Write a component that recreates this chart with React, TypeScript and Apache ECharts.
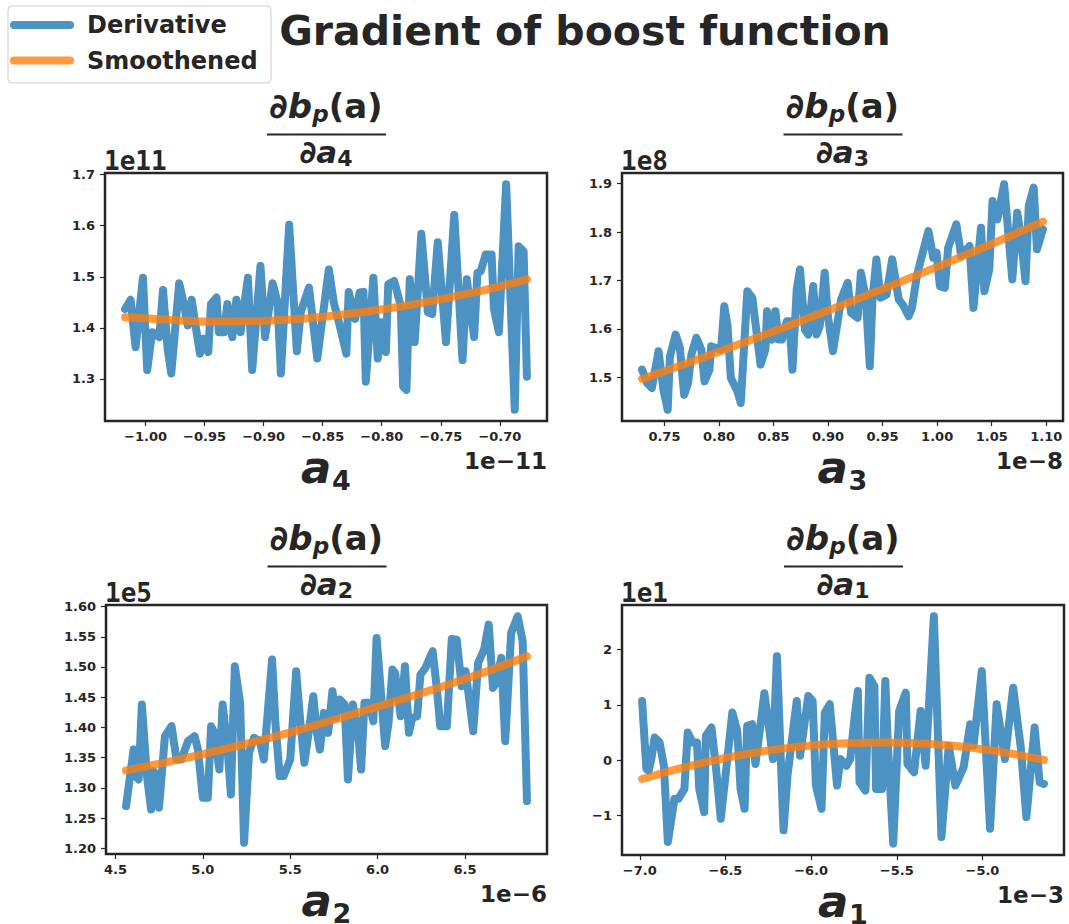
import React, { useEffect, useRef } from "react";
import * as echarts from "echarts";

const TITLE = "Gradient of boost function";
const LEGEND_LABELS = ["Derivative", "Smoothened"];
const BLUE = "#1f77b4";
const ORANGE = "#ff7f0e";
const INK = "#262626";
const FONT = "DejaVu Sans";

// Panel a4 (x in 1e-11, y in 1e11)
const P1_DERIV: [number, number][] = [
  [-1.0173, 1.4368], [-1.0126, 1.4549], [-1.0084, 1.3625], [-1.0022, 1.4982], [-0.9986, 1.3173],
  [-0.9944, 1.3916], [-0.9883, 1.3819], [-0.9852, 1.4743], [-0.9813, 1.3593], [-0.9782, 1.3108],
  [-0.9715, 1.4872], [-0.9678, 1.4498], [-0.9642, 1.4045], [-0.9609, 1.4549], [-0.9572, 1.3981],
  [-0.9539, 1.3496], [-0.9511, 1.3787], [-0.9469, 1.3528], [-0.9446, 1.4465], [-0.9399, 1.4595],
  [-0.9379, 1.3916], [-0.9335, 1.3916], [-0.9307, 1.4465], [-0.9265, 1.3819], [-0.9231, 1.4549],
  [-0.9195, 1.3916], [-0.9133, 1.4982], [-0.9097, 1.3173], [-0.9027, 1.5209], [-0.8988, 1.3819],
  [-0.8924, 1.4872], [-0.8882, 1.4498], [-0.8854, 1.3108], [-0.8784, 1.6017], [-0.8719, 1.3541],
  [-0.8686, 1.4304], [-0.8616, 1.4788], [-0.8546, 1.3399], [-0.8448, 1.5144], [-0.8406, 1.4498],
  [-0.8356, 1.4045], [-0.83, 1.3496], [-0.828, 1.4704], [-0.8225, 1.4175], [-0.8188, 1.4691],
  [-0.8155, 1.4704], [-0.8135, 1.2946], [-0.8071, 1.4982], [-0.8034, 1.3399], [-0.8001, 1.411],
  [-0.7965, 1.3528], [-0.7945, 1.4853], [-0.7895, 1.4918], [-0.7839, 1.4433], [-0.7819, 1.2849],
  [-0.7791, 1.2785], [-0.7763, 1.495], [-0.7721, 1.3722], [-0.7665, 1.5842], [-0.7609, 1.4304],
  [-0.7573, 1.4271], [-0.7526, 1.5674], [-0.7456, 1.3722], [-0.7386, 1.6211], [-0.7316, 1.3367],
  [-0.728, 1.495], [-0.7218, 1.3819], [-0.719, 1.5079], [-0.7162, 1.5111], [-0.712, 1.5434],
  [-0.707, 1.5434], [-0.705, 1.4368], [-0.7008, 1.3916], [-0.6947, 1.681], [-0.6874, 1.2398],
  [-0.6841, 1.5596], [-0.6799, 1.5499], [-0.6771, 1.3043],
];
const P1_SMOOTH: [number, number][] = [
  [-1.0173, 1.4207], [-0.98, 1.416], [-0.944, 1.4123], [-0.897, 1.414], [-0.84, 1.424],
  [-0.785, 1.4414], [-0.7288, 1.466], [-0.7, 1.481], [-0.6771, 1.495],
];
const P1_XTICKS = [-1.0, -0.95, -0.9, -0.85, -0.8, -0.75, -0.7];
const P1_YTICKS = [1.3, 1.4, 1.5, 1.6, 1.7];

// Panel a3 (x in 1e-8, y in 1e8)
const P2_DERIV: [number, number][] = [
  [0.7295, 1.5159], [0.734, 1.4883], [0.7385, 1.4779], [0.7446, 1.5538], [0.7491, 1.4745],
  [0.753, 1.4331], [0.7551, 1.5434], [0.7603, 1.5883], [0.7642, 1.5607], [0.7681, 1.4641],
  [0.7717, 1.4883], [0.7747, 1.5469], [0.7793, 1.5814], [0.7838, 1.5572], [0.7868, 1.4917],
  [0.7913, 1.5159], [0.7928, 1.5641], [0.8019, 1.5572], [0.8049, 1.6469], [0.8079, 1.6055],
  [0.8109, 1.4986], [0.817, 1.471], [0.82, 1.4469], [0.826, 1.6779], [0.8306, 1.6641],
  [0.8381, 1.5262], [0.8426, 1.5572], [0.8441, 1.6366], [0.8487, 1.5779], [0.8517, 1.6366],
  [0.8547, 1.5779], [0.8577, 1.5779], [0.8622, 1.6159], [0.8646, 1.6159], [0.8674, 1.5159],
  [0.8713, 1.6814], [0.8743, 1.7228], [0.8788, 1.5986], [0.8818, 1.5883], [0.8864, 1.6883],
  [0.8894, 1.5883], [0.8924, 1.6055], [0.8969, 1.7159], [0.8999, 1.6262], [0.9045, 1.5538],
  [0.912, 1.6607], [0.918, 1.6952], [0.9211, 1.6331], [0.9271, 1.6228], [0.9301, 1.7159],
  [0.9346, 1.6641], [0.9383, 1.5228], [0.9407, 1.6607], [0.9443, 1.7435], [0.9482, 1.6641],
  [0.9536, 1.671], [0.9588, 1.7435], [0.9648, 1.6607], [0.9693, 1.6469], [0.9739, 1.6262],
  [0.9769, 1.6434], [0.9814, 1.709], [0.9844, 1.7366], [0.992, 1.8021], [0.9965, 1.7469],
  [0.9995, 1.7573], [1.0025, 1.6883], [1.0071, 1.6848], [1.0101, 1.7676], [1.0176, 1.8159],
  [1.0221, 1.7504], [1.0297, 1.771], [1.0333, 1.6434], [1.0402, 1.809], [1.0433, 1.6779],
  [1.0478, 1.7228], [1.0508, 1.8642], [1.0553, 1.8262], [1.0614, 1.8986], [1.0689, 1.7021],
  [1.0734, 1.84], [1.0764, 1.7952], [1.081, 1.6986], [1.084, 1.8538], [1.0885, 1.8917],
  [1.0915, 1.7642], [1.097, 1.8055],
];
const P2_SMOOTH: [number, number][] = [
  [0.7295, 1.4966], [0.8, 1.553], [0.9, 1.638], [1.0, 1.728], [1.097, 1.8214],
];
const P2_XTICKS = [0.75, 0.8, 0.85, 0.9, 0.95, 1.0, 1.05, 1.1];
const P2_YTICKS = [1.5, 1.6, 1.7, 1.8, 1.9];

// Panel a2 (x in 1e-6, y in 1e5)
const P3_DERIV: [number, number][] = [
  [4.5604, 1.2699], [4.6038, 1.3635], [4.6226, 1.3168], [4.6321, 1.314], [4.6509, 1.4379],
  [4.6792, 1.3223], [4.7038, 1.2644], [4.717, 1.3278], [4.7321, 1.3223], [4.7491, 1.2672],
  [4.783, 1.3856], [4.8208, 1.4021], [4.8491, 1.347], [4.8774, 1.347], [4.9151, 1.3773],
  [4.9528, 1.3856], [4.9717, 1.3636], [5.0, 1.2837], [5.0283, 1.2837], [5.0472, 1.4021],
  [5.066, 1.3911], [5.0943, 1.3305], [5.1132, 1.4379], [5.1415, 1.3636], [5.1604, 1.2892],
  [5.183, 1.5012], [5.2132, 1.4407], [5.2358, 1.2094], [5.2642, 1.3581], [5.2925, 1.3828],
  [5.3264, 1.3773], [5.3491, 1.347], [5.3962, 1.5122], [5.4151, 1.4076], [5.4396, 1.3195],
  [5.4623, 1.3195], [5.5, 1.347], [5.534, 1.493], [5.5566, 1.4131], [5.5811, 1.3415],
  [5.6038, 1.3883], [5.6321, 1.4517], [5.6509, 1.3938], [5.6698, 1.3636], [5.6925, 1.4241],
  [5.717, 1.3911], [5.7415, 1.4599], [5.7604, 1.4159], [5.783, 1.4462], [5.8113, 1.4379],
  [5.8302, 1.314], [5.8585, 1.4379], [5.8868, 1.3966], [5.9057, 1.3305], [5.9245, 1.4407],
  [5.9528, 1.4407], [5.9755, 1.4104], [5.9943, 1.548], [6.0434, 1.3691], [6.0623, 1.4076],
  [6.0849, 1.4957], [6.1, 1.4902], [6.1321, 1.4186], [6.1566, 1.5012], [6.1792, 1.3911],
  [6.1981, 1.4159], [6.2264, 1.4186], [6.2453, 1.4875], [6.2736, 1.4985], [6.3151, 1.526],
  [6.3396, 1.4627], [6.3585, 1.4021], [6.3962, 1.4021], [6.4245, 1.5464], [6.4528, 1.5453],
  [6.4811, 1.4682], [6.5038, 1.493], [6.5472, 1.3938], [6.5755, 1.5067], [6.6094, 1.5288],
  [6.6358, 1.5701], [6.6604, 1.4654], [6.6792, 1.4737], [6.7075, 1.515], [6.7302, 1.3773],
  [6.7642, 1.5563], [6.8019, 1.5838], [6.8302, 1.5425], [6.8547, 1.2782],
];
const P3_SMOOTH: [number, number][] = [
  [4.5604, 1.3289], [5.0, 1.356], [5.5, 1.392], [6.0, 1.4345], [6.5, 1.48], [6.8547, 1.5178],
];
const P3_XTICKS = [4.5, 5.0, 5.5, 6.0, 6.5];
const P3_YTICKS = [1.2, 1.25, 1.3, 1.35, 1.4, 1.45, 1.5, 1.55, 1.6];

// Panel a1 (x in 1e-3, y in 1e1)
const P4_DERIV: [number, number][] = [
  [-6.9865, 1.0703], [-6.9614, -0.1624], [-6.9479, -0.1924], [-6.9325, 0.018], [-6.9132, 0.4089],
  [-6.8843, 0.3187], [-6.8592, -0.1022], [-6.8361, -1.4852], [-6.7975, -0.7035], [-6.7744, -0.7035],
  [-6.7396, -0.5231], [-6.7204, 0.4991], [-6.6914, 0.3187], [-6.6664, 0.3187], [-6.6529, -0.5231],
  [-6.6239, -0.944], [-6.6143, 0.4389], [-6.5815, 0.5893], [-6.5564, -0.1022], [-6.5275, -1.0643],
  [-6.4889, 0.018], [-6.46, 0.8599], [-6.4311, 0.5291], [-6.4118, -0.5231], [-6.3886, -0.8839],
  [-6.3732, 0.6193], [-6.3443, 0.6494], [-6.325, -0.0722], [-6.2961, 0.6193], [-6.2729, 1.2086],
  [-6.2479, 0.6494], [-6.2229, 0.018], [-6.1996, 1.8821], [-6.1611, -1.2748], [-6.1379, -0.2826],
  [-6.0839, 1.0703], [-6.0646, 0.0782], [-6.0164, 1.1605], [-5.9913, 1.0703], [-5.9721, -0.463],
  [-5.9393, -0.8839], [-5.92, 0.8599], [-5.8911, 1.0102], [-5.8486, -0.463], [-5.8293, 0.018],
  [-5.7946, -0.1022], [-5.7715, 0.018], [-5.7464, 0.7697], [-5.7271, 1.2507], [-5.7175, -0.4029],
  [-5.6828, -0.5532], [-5.6596, 1.4912], [-5.6307, 1.3409], [-5.621, -0.5231], [-5.5863, -0.5231],
  [-5.567, 1.4311], [-5.5536, 0.3788], [-5.5208, -1.5153], [-5.486, 0.8899], [-5.4475, 1.2206],
  [-5.4378, -0.0722], [-5.3993, -0.2225], [-5.3607, 0.8899], [-5.3318, -0.1022], [-5.2836, 2.6036],
  [-5.2392, -1.395], [-5.1968, 0.2586], [-5.1582, -0.463], [-5.11, -0.1323], [-5.0714, 0.6494],
  [-5.0521, 0.2586], [-5.0039, 1.6115], [-4.9557, -1.2447], [-4.9171, 1.0102], [-4.8689, 0.018],
  [-4.8207, 1.3108], [-4.7763, 0.2285], [-4.7436, -1.0342], [-4.6954, 0.5893], [-4.6664, -0.4029],
  [-4.6413, -0.433],
];
const P4_SMOOTH: [number, number][] = [
  [-6.9865, -0.343], [-6.7, -0.1], [-6.41, 0.09], [-6.12, 0.225], [-5.83, 0.3],
  [-5.54, 0.318], [-5.25, 0.278], [-4.96, 0.18], [-4.6413, 0.0],
];
const P4_XTICKS = [-7.0, -6.5, -6.0, -5.5, -5.0];
const P4_YTICKS = [-1, 0, 1, 2];

const PANELS = [
  { deriv: P1_DERIV, smooth: P1_SMOOTH, xTicks: P1_XTICKS, yTicks: P1_YTICKS, xDec: 2, yDec: 1,
    sub: "4", yOff: "1e11", xOff: "1e\u221211", left: 105, top: 173, width: 442, height: 248 },
  { deriv: P2_DERIV, smooth: P2_SMOOTH, xTicks: P2_XTICKS, yTicks: P2_YTICKS, xDec: 2, yDec: 1,
    sub: "3", yOff: "1e8", xOff: "1e\u22128", left: 622, top: 173, width: 441, height: 248 },
  { deriv: P3_DERIV, smooth: P3_SMOOTH, xTicks: P3_XTICKS, yTicks: P3_YTICKS, xDec: 1, yDec: 2,
    sub: "2", yOff: "1e5", xOff: "1e\u22126", left: 106, top: 605, width: 441, height: 249 },
  { deriv: P4_DERIV, smooth: P4_SMOOTH, xTicks: P4_XTICKS, yTicks: P4_YTICKS, xDec: 1, yDec: 0,
    sub: "1", yOff: "1e1", xOff: "1e\u22123", left: 622, top: 605, width: 442, height: 250 },
];

const fmt = (v: number, d: number) => v.toFixed(d).replace("-", "\u2212");

function paddedExtent(vals: number[]) {
  const lo = Math.min(...vals);
  const hi = Math.max(...vals);
  const m = (hi - lo) * 0.05;
  return [lo - m, hi + m];
}

function tx(text: string, x: number, y: number, style: any) {
  return {
    type: "text",
    x,
    y,
    silent: true,
    style: { text, fill: INK, fontFamily: FONT, ...style },
  };
}

export default function App() {
  const ref = useRef<HTMLDivElement>(null);

  useEffect(() => {
    if (!ref.current) return;
    const chart = echarts.init(ref.current, undefined, { renderer: "svg" });

    const grids: any[] = [];
    const xAxes: any[] = [];
    const yAxes: any[] = [];
    const series: any[] = [];
    const graphics: any[] = [];

    PANELS.forEach((p, i) => {
      const all = [...p.deriv, ...p.smooth];
      const [xmin, xmax] = paddedExtent(all.map((d) => d[0]));
      const [ymin, ymax] = paddedExtent(all.map((d) => d[1]));
      grids.push({
        left: p.left, top: p.top, width: p.width, height: p.height,
        show: true, borderColor: INK, borderWidth: 2.5, backgroundColor: "transparent",
        containLabel: false,
      });
      const common = {
        type: "value",
        gridIndex: i,
        axisLine: { show: false, onZero: false },
        splitLine: { show: false },
      };
      xAxes.push({
        ...common,
        position: "bottom",
        min: xmin, max: xmax,
        axisTick: { show: true, inside: false, length: 5, lineStyle: { color: INK, width: 1.2 }, customValues: p.xTicks },
        axisLabel: {
          show: true, customValues: p.xTicks, margin: 9, fontSize: 13, fontWeight: "bold",
          fontFamily: FONT, color: INK, formatter: (v: number) => fmt(v, p.xDec),
        },
      });
      yAxes.push({
        ...common,
        position: "left",
        min: ymin, max: ymax,
        axisTick: { show: true, inside: false, length: 5, lineStyle: { color: INK, width: 1.2 }, customValues: p.yTicks },
        axisLabel: {
          show: true, customValues: p.yTicks, margin: 10, fontSize: 13, fontWeight: "bold",
          fontFamily: FONT, color: INK, formatter: (v: number) => fmt(v, p.yDec),
        },
      });
      series.push({
        type: "line", name: LEGEND_LABELS[0], xAxisIndex: i, yAxisIndex: i,
        data: p.deriv, showSymbol: false, symbol: "none", z: 2,
        lineStyle: { color: BLUE, width: 8, opacity: 0.8, cap: "round", join: "round" },
      });
      series.push({
        type: "line", name: LEGEND_LABELS[1], xAxisIndex: i, yAxisIndex: i,
        data: p.smooth, showSymbol: false, symbol: "none", smooth: true, z: 3,
        lineStyle: { color: ORANGE, width: 8, opacity: 0.8, cap: "round", join: "round" },
      });

      const cx = p.left + p.width / 2;
      const bottom = p.top + p.height;
      // fraction title
      graphics.push(tx("{m|\u2202}{mi|b}{s|p}{m|(a)}", cx, p.top - 67, {
        align: "center", verticalAlign: "middle", textAlign: "center", textVerticalAlign: "middle",
        rich: {
          m: { fontSize: 34, fontWeight: "bold", fontFamily: FONT, fill: INK, lineHeight: 38 },
          mi: { fontSize: 34, fontWeight: "bold", fontStyle: "italic", fontFamily: FONT, fill: INK, lineHeight: 38 },
          s: { fontSize: 23, fontWeight: "bold", fontStyle: "italic", fontFamily: FONT, fill: INK, lineHeight: 24, verticalAlign: "bottom" },
        },
      }));
      graphics.push({
        type: "line", silent: true,
        shape: { x1: cx - 59, y1: p.top - 38.5, x2: cx + 60, y2: p.top - 38.5 },
        style: { stroke: INK, lineWidth: 2 },
      });
      graphics.push(tx("{m|\u2202}{mi|a}{s|" + p.sub + "}", cx, p.top - 21, {
        align: "center", verticalAlign: "middle", textAlign: "center", textVerticalAlign: "middle",
        rich: {
          m: { fontSize: 31, fontWeight: "bold", fontFamily: FONT, fill: INK, lineHeight: 34 },
          mi: { fontSize: 31, fontWeight: "bold", fontStyle: "italic", fontFamily: FONT, fill: INK, lineHeight: 34 },
          s: { fontSize: 22, fontWeight: "bold", fontFamily: FONT, fill: INK, lineHeight: 17, verticalAlign: "bottom" },
        },
      }));
      // axis label: italic "a" plus lowered subscript
      graphics.push(tx("a", cx - 25, bottom + 46, {
        fontSize: 45, fontWeight: "bold", fontStyle: "italic",
        align: "left", verticalAlign: "middle", textAlign: "left", textVerticalAlign: "middle",
      }));
      graphics.push(tx(p.sub, cx + 6, bottom + 59, {
        fontSize: 27, fontWeight: "bold",
        align: "left", verticalAlign: "middle", textAlign: "left", textVerticalAlign: "middle",
      }));
      // offset texts
      graphics.push(tx(p.yOff, p.left - 1, p.top - 12.5, {
        fontSize: 26, fontWeight: "bold", fontFamily: "DejaVu Sans Mono",
        align: "left", verticalAlign: "middle", textAlign: "left", textVerticalAlign: "middle",
      }));
      graphics.push(tx(p.xOff, p.left + p.width, bottom + 40, {
        fontSize: 23, fontWeight: "bold",
        align: "right", verticalAlign: "middle", textAlign: "right", textVerticalAlign: "middle",
      }));
    });

    // suptitle
    graphics.push(tx(TITLE, 585, 31, {
      fontSize: 41, fontWeight: "bold",
      align: "center", verticalAlign: "middle", textAlign: "center", textVerticalAlign: "middle",
    }));
    // legend box
    graphics.push({
      type: "rect", silent: true,
      shape: { x: 8, y: 6, width: 263, height: 77, r: 4 },
      style: { fill: "rgba(255,255,255,0.8)", stroke: "#cccccc", lineWidth: 1 },
    });
    [BLUE, ORANGE].forEach((c, k) => {
      const y = 25 + k * 35.5;
      graphics.push({
        type: "line", silent: true,
        shape: { x1: 14, y1: y, x2: 70, y2: y },
        style: { stroke: c, lineWidth: 8, lineCap: "round", opacity: 0.8 },
      });
      graphics.push(tx(LEGEND_LABELS[k], 87, y, {
        fontSize: 24, fontWeight: "bold",
        align: "left", verticalAlign: "middle", textAlign: "left", textVerticalAlign: "middle",
      }));
    });

    chart.setOption({
      animation: false,
      backgroundColor: "#ffffff",
      textStyle: { fontFamily: FONT },
      grid: grids,
      xAxis: xAxes,
      yAxis: yAxes,
      series,
      graphic: { elements: graphics },
    });

    return () => chart.dispose();
  }, []);

  return (
    <div
      ref={ref}
      style={{ position: "absolute", left: 0, top: 0, width: 1069, height: 924, background: "#fff" }}
    />
  );
}
